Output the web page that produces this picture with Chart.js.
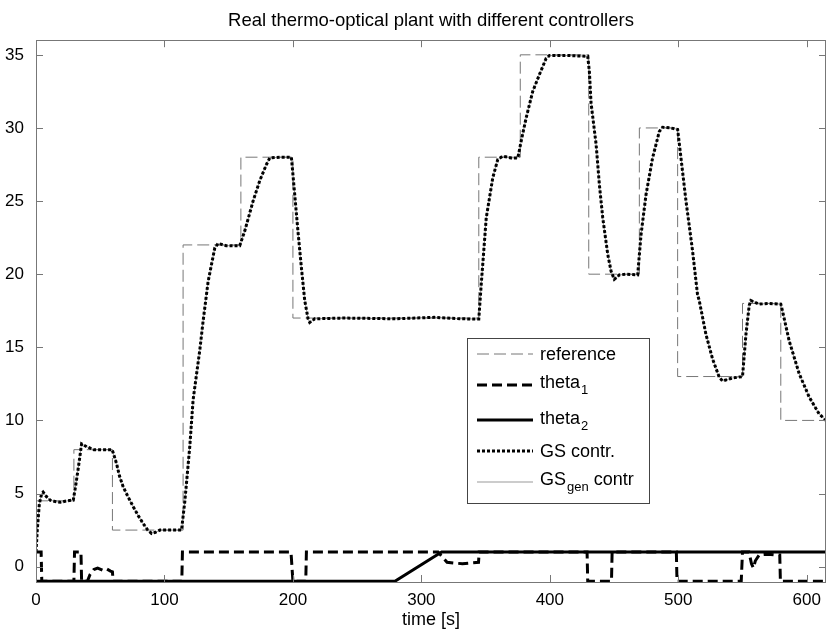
<!DOCTYPE html>
<html>
<head>
<meta charset="utf-8">
<title>Real thermo-optical plant</title>
<script src="https://cdn.jsdelivr.net/npm/chart.js@4.4.1/dist/chart.umd.min.js"></script>
<style>
  html, body { margin: 0; padding: 0; background: #fff; }
  #wrap { width: 827px; height: 631px; }
</style>
</head>
<body>
<div id="wrap"><canvas id="plantChart" width="827" height="631"></canvas></div>
<script>
// --- data ---
const chartTitle = 'Real thermo-optical plant with different controllers';
const xLabel = 'time [s]';
const xTicks = [0, 100, 200, 300, 400, 500, 600];
const yTicks = [0, 5, 10, 15, 20, 25, 30, 35];

// reference (step signal)
const refTime = [0, 29.5, 29.5, 59.5, 59.5, 114.5, 114.5, 159.5, 159.5, 200, 200, 344.7, 344.7, 377, 377, 430.3, 430.3, 469.7, 469.7, 499.5, 499.5, 550, 550, 579.8, 579.8, 615];
const refValues = [4.5, 4.5, 8, 8, 2.5, 2.5, 22, 22, 28, 28, 17, 17, 28, 28, 35, 35, 20, 20, 30, 30, 13, 13, 18, 18, 10, 10];

// theta_1 (scheduling variable 1)
const theta1Time = [0, 4, 4.5, 29.5, 30, 35, 35.5, 40, 42, 45, 48, 52, 55, 58, 59.5, 60, 113.5, 114, 198.5, 200, 210, 210.5, 313, 317, 320, 325, 332, 338, 344.5, 345, 429, 429.5, 448, 448.5, 498.5, 499, 549, 550, 555, 557, 558.5, 560, 563, 570, 575, 579, 579.5, 615];
const theta1Values = [1, 1, -1, -1, 1, 1, -1, -1, -0.55, -0.2, -0.1, -0.25, -0.15, -0.3, -0.35, -1, -1, 1, 1, -1, -1, 1, 1, 0.6, 0.3, 0.25, 0.2, 0.25, 0.3, 1, 1, -1, -1, 1, 1, -1, -1, 1, 1, 0.2, -0.1, 0.4, 0.8, 0.85, 0.8, 0.8, -1, -1];

// theta_2 (scheduling variable 2)
const theta2Time = [0, 279.4, 315.8, 615];
const theta2Values = [-1, -1, 1, 1];

// GS controller output
const gsTime = [0, 1, 2.6, 4.4, 5.5, 8, 11, 15, 19, 24, 29, 31, 33, 35.5, 39.5, 45, 52, 59.3, 62.7, 65, 67.9, 71.5, 75.7, 79.5, 83.4, 87, 90, 93, 96.5, 105, 113.3, 115.9, 119.7, 122.3, 127.5, 130.1, 134, 139.2, 141.8, 148, 158.6, 162.5, 169, 174.2, 179.4, 182, 190, 198.8, 201.4, 203.9, 206.6, 209.2, 211.8, 213.1, 217, 240, 280, 310, 330, 344.7, 346.6, 350.5, 355.6, 359.5, 363.4, 370, 375.1, 377.7, 381.6, 386.7, 391.9, 397.1, 399.7, 415, 429.5, 430.8, 432.1, 436, 438.6, 441.2, 445.1, 447.7, 450.2, 454.1, 460, 468.4, 471, 474.9, 480, 485.2, 487.8, 494, 499.5, 502.1, 506, 511.1, 515, 516.3, 521.5, 526.7, 531.9, 534.5, 542.3, 550, 552.7, 555.2, 556.5, 563, 570, 579.8, 581.1, 586.3, 594.1, 601.9, 609.6, 615];
const gsValues = [1, 2.5, 4.3, 5.0, 5.1, 4.8, 4.55, 4.45, 4.4, 4.5, 4.55, 5.6, 6.8, 8.4, 8.2, 8.0, 8.0, 8.0, 7.05, 6.2, 5.45, 4.8, 4.1, 3.5, 2.95, 2.5, 2.27, 2.35, 2.5, 2.5, 2.5, 4.5, 8.2, 11.4, 14.8, 16.8, 19.5, 21.8, 22.1, 21.95, 21.95, 22.95, 25, 26.4, 27.5, 27.95, 28, 28, 25.45, 22.95, 20.45, 18.2, 16.95, 16.7, 16.95, 17, 16.95, 17.05, 16.95, 16.93, 19.3, 23.85, 26.6, 27.85, 28.07, 27.95, 27.95, 29.1, 30.7, 32.5, 33.65, 34.75, 34.95, 34.95, 34.9, 33.85, 31.7, 28.9, 26.1, 23.85, 21.35, 20.2, 19.65, 19.95, 20, 19.95, 22.7, 25.45, 27.95, 29.75, 30.05, 30, 29.9, 27.95, 25, 21.6, 18.6, 18.2, 15.9, 14.2, 12.95, 12.7, 12.9, 13.0, 15.9, 17.85, 18.2, 17.95, 18, 17.95, 17.5, 15.45, 13.2, 11.6, 10.45, 10.0];

// GS_gen controller output (lies under the GS curve almost everywhere)
const gsGenTime = gsTime;
const gsGenValues = gsValues;

const toPoints = (xs, ys) => xs.map((x, i) => ({ x: x, y: ys[i] }));
const FONT = 'Arial, "Liberation Sans", Helvetica, sans-serif';

// inward ticks + axes box, matlab style
const axesBox = {
  id: 'axesBox',
  afterDatasetsDraw(chart) {
    const { ctx, chartArea: a, scales } = chart;
    ctx.save();
    ctx.strokeStyle = '#777';
    ctx.lineWidth = 1;
    ctx.beginPath();
    xTicks.forEach((v) => {
      const px = Math.round(scales.x.getPixelForValue(v)) + 0.5;
      ctx.moveTo(px, a.bottom); ctx.lineTo(px, a.bottom - 7);
      ctx.moveTo(px, a.top); ctx.lineTo(px, a.top + 7);
    });
    yTicks.forEach((v) => {
      const py = Math.round(scales.y.getPixelForValue(v)) + 0.5;
      ctx.moveTo(a.left, py); ctx.lineTo(a.left + 7, py);
      ctx.moveTo(a.right, py); ctx.lineTo(a.right - 7, py);
    });
    ctx.stroke();
    ctx.strokeRect(Math.round(a.left) + 0.5, Math.round(a.top) + 0.5, Math.round(a.right - a.left) - 1, Math.round(a.bottom - a.top));
    ctx.restore();
  }
};

// legend box with subscripts
const legendEntries = [
  { ds: 0, text: 'reference', sub: '', rest: '' },
  { ds: 1, text: 'theta', sub: '1', rest: '' },
  { ds: 2, text: 'theta', sub: '2', rest: '' },
  { ds: 3, text: 'GS contr.', sub: '', rest: '' },
  { ds: 4, text: 'GS', sub: 'gen', rest: ' contr' }
];

const legendBox = {
  id: 'legendBox',
  afterDraw(chart) {
    const ctx = chart.ctx;
    const box = { x: 467, y: 338, w: 182, h: 165 };
    const lineY = [354, 385, 420, 451, 482];
    const textY = [360, 388, 424, 457, 485];
    ctx.save();
    ctx.fillStyle = '#fff';
    ctx.fillRect(box.x, box.y, box.w, box.h);
    ctx.strokeStyle = '#444';
    ctx.lineWidth = 1;
    ctx.strokeRect(box.x + 0.5, box.y + 0.5, box.w, box.h);
    legendEntries.forEach((e, i) => {
      const ds = chart.data.datasets[e.ds];
      ctx.beginPath();
      ctx.strokeStyle = ds.borderColor;
      ctx.lineWidth = ds.borderWidth;
      ctx.setLineDash(ds.borderDash || []);
      ctx.moveTo(477, lineY[i]);
      ctx.lineTo(533, lineY[i]);
      ctx.stroke();
      ctx.setLineDash([]);
      ctx.fillStyle = '#000';
      ctx.textBaseline = 'alphabetic';
      ctx.font = '18px ' + FONT;
      let x = 540;
      ctx.fillText(e.text, x, textY[i]);
      x += ctx.measureText(e.text).width;
      if (e.sub) {
        ctx.font = '13px ' + FONT;
        ctx.fillText(e.sub, x + 1, textY[i] + 6);
        x += ctx.measureText(e.sub).width + 1;
        ctx.font = '18px ' + FONT;
      }
      if (e.rest) ctx.fillText(e.rest, x, textY[i]);
    });
    ctx.restore();
  }
};

new Chart(document.getElementById('plantChart'), {
  type: 'line',
  data: {
    datasets: [
      {
        label: 'reference',
        data: toPoints(refTime, refValues),
        borderColor: '#777',
        borderWidth: 1,
        borderDash: [12, 5],
        order: 4,
      },
      {
        label: 'theta1',
        data: toPoints(theta1Time, theta1Values),
        borderColor: '#000',
        borderWidth: 3,
        borderDash: [10, 5],
        order: 2,
      },
      {
        label: 'theta2',
        data: toPoints(theta2Time, theta2Values),
        borderColor: '#000',
        borderWidth: 3,
        order: 3,
      },
      {
        label: 'GS contr.',
        data: toPoints(gsTime, gsValues),
        borderColor: '#000',
        borderWidth: 3,
        borderDash: [3, 2],
        order: 1,
      },
      {
        label: 'GSgen contr',
        data: toPoints(gsGenTime, gsGenValues),
        borderColor: '#999',
        borderWidth: 1,
        order: 5,
      },
    ],
  },
  options: {
    responsive: false,
    animation: false,
    devicePixelRatio: 1,
    elements: { point: { radius: 0 }, line: { tension: 0, fill: false } },
    layout: { padding: { left: 0, right: 1, top: 0, bottom: 0 } },
    plugins: {
      legend: { display: false },
      tooltip: { enabled: false },
      title: {
        display: true,
        fullSize: false,
        text: chartTitle,
        color: '#000',
        font: { family: FONT, size: 18.5, weight: 'normal' },
        padding: { top: 10, bottom: 8 },
      },
    },
    scales: {
      x: {
        type: 'linear',
        min: 0,
        max: 615,
        grid: { display: false },
        border: { display: false },
        ticks: { color: '#000', font: { family: FONT, size: 17 }, padding: 0, maxRotation: 0 },
        afterBuildTicks: (s) => { s.ticks = xTicks.map((v) => ({ value: v })); },
        afterFit: (s) => { s.height = 49; },
        title: { display: true, text: xLabel, color: '#000', font: { family: FONT, size: 18 }, padding: { top: 0, bottom: 0 } },
      },
      y: {
        type: 'linear',
        min: -1.05,
        max: 36,
        grid: { display: false },
        border: { display: false },
        ticks: { color: '#000', font: { family: FONT, size: 17 }, padding: 4 },
        afterBuildTicks: (s) => { s.ticks = yTicks.map((v) => ({ value: v })); },
        afterFit: (s) => { s.width = 36; },
      },
    },
  },
  plugins: [axesBox, legendBox],
});
</script>
</body>
</html>
